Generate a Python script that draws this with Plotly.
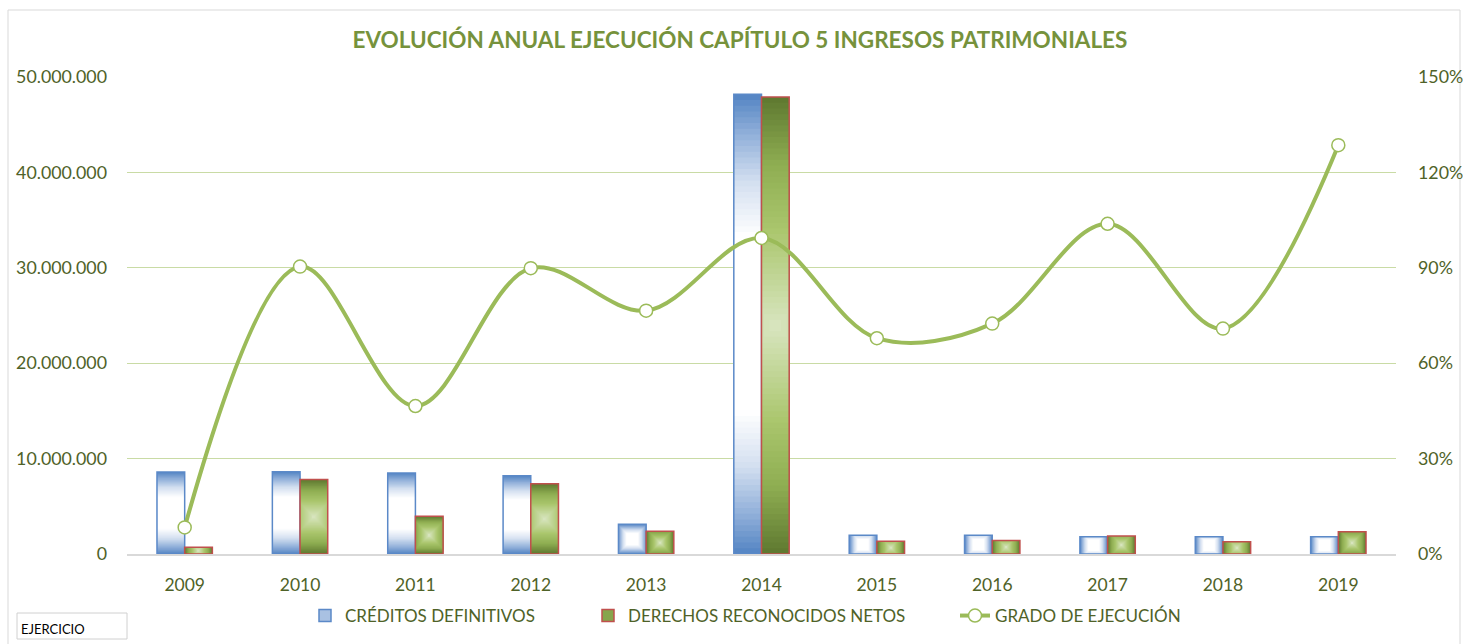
import plotly.graph_objects as go

# ---- data -------------------------------------------------------------
years = ["2009", "2010", "2011", "2012", "2013", "2014",
         "2015", "2016", "2017", "2018", "2019"]
creditos = [8.60e6, 8.63e6, 8.49e6, 8.20e6, 3.11e6, 48.2e6,
            1.96e6, 1.96e6, 1.82e6, 1.82e6, 1.82e6]
derechos = [0.72e6, 7.80e6, 3.95e6, 7.37e6, 2.38e6, 47.9e6,
            1.33e6, 1.42e6, 1.89e6, 1.29e6, 2.34e6]
# execution ratio = recognised rights / final credits
grado = [d / c for d, c in zip(derechos, creditos)]

# ---- geometry used to shape the bar gradients ---------------------------
W, H = 1463, 644
L, R, T, B = 127, 67, 77, 90
PLOT_W, PLOT_H = W - L - R, H - T - B
Y_MAX = 50e6
PX_X = PLOT_W / len(years)      # pixels per category
PX_Y = PLOT_H / Y_MAX           # pixels per unit of value
BAR_W = 0.24                    # bar width in category units
N_LAYERS = 40

TXT = "#4F6228"
BLUE_STOPS = [(0.0, "#FFFFFF"), (0.38, "#FFFFFF"), (0.62, "#D3DFF0"),
              (0.82, "#93B1DA"), (1.0, "#5384C3")]
GREEN_STOPS = [(0.0, "#D8E5BF"), (0.42, "#AAC66D"), (0.7, "#8FAE52"),
               (1.0, "#5E7830")]


def hex_rgb(h):
    h = h.lstrip("#")
    return tuple(int(h[i:i + 2], 16) for i in (0, 2, 4))


def color_at(stops, t):
    for (t0, c0), (t1, c1) in zip(stops, stops[1:]):
        if t <= t1:
            f = 0 if t1 == t0 else (t - t0) / (t1 - t0)
            a, b = hex_rgb(c0), hex_rgb(c1)
            return "rgb(%d,%d,%d)" % tuple(round(a[i] + (b[i] - a[i]) * f) for i in range(3))
    return stops[-1][1]


def gradient_bars(values, side, stops, edge, name, legend):
    """Nested bars approximating a centre-out gradient fill."""
    traces = []
    x = list(range(len(values)))
    hw_px = BAR_W * PX_X / 2
    for k in range(N_LAYERS):
        outer = 1 - k / N_LAYERS
        mid = 1 - (k + 0.5) / N_LAYERS
        widths, bases, heights, offsets = [], [], [], []
        for v in values:
            hh_px = v * PX_Y / 2
            rm = max(hw_px, hh_px)
            r = outer * rm
            hw = min(hw_px, r)
            hh = min(hh_px, r)
            cx = side * BAR_W / 2
            widths.append(2 * hw / PX_X)
            offsets.append(cx - hw / PX_X)
            heights.append(2 * hh / PX_Y)
            bases.append(v / 2 - hh / PX_Y)
        traces.append(go.Bar(
            x=x, y=heights, base=bases, width=widths, offset=offsets,
            marker=dict(color=color_at(stops, mid), line=dict(width=0)),
            showlegend=False, hoverinfo="skip"))
    # outline on top
    traces.append(go.Bar(
        x=x, y=values, width=[BAR_W] * len(values),
        offset=[side * BAR_W / 2 - BAR_W / 2] * len(values),
        marker=dict(color="rgba(0,0,0,0)", line=dict(color=edge, width=1.5)),
        name=name, showlegend=False,
        hovertemplate="%{y:,.0f}<extra>" + name + "</extra>"))
    # legend entry
    traces.append(go.Bar(
        x=[None], y=[None], name=name, legend=legend,
        marker=dict(color=color_at(stops, 0.75), line=dict(color=edge, width=1.5))))
    return traces


fig = go.Figure()
for tr in gradient_bars(creditos, -1, BLUE_STOPS, "#5B89C8",
                        "CRÉDITOS DEFINITIVOS", "legend"):
    fig.add_trace(tr)
for tr in gradient_bars(derechos, 1, GREEN_STOPS, "#C0504D",
                        "DERECHOS RECONOCIDOS NETOS", "legend2"):
    fig.add_trace(tr)

fig.add_trace(go.Scatter(
    x=list(range(len(years))), y=grado, yaxis="y2", name="GRADO DE EJECUCIÓN",
    legend="legend3", mode="lines+markers",
    line=dict(color="#9BBB59", width=4, shape="spline", smoothing=1),
    marker=dict(size=13, color="white", line=dict(color="#9BBB59", width=1.5)),
    hovertemplate="%{y:.0%}<extra></extra>"))


def px_x(p):
    return (p - L) / PLOT_W


def px_y(p):
    return (H - B - p) / PLOT_H


def cx(p):
    return p / W


def cy(p):
    return 1 - p / H


legend_common = dict(orientation="h", yanchor="middle", xanchor="left",
                     xref="container", yref="container",
                     y=cy(616), bgcolor="rgba(0,0,0,0)",
                     font=dict(family="Lato", size=17, color=TXT))

fig.update_layout(
    width=W, height=H,
    margin=dict(l=L, r=R, t=T, b=B, autoexpand=False),
    paper_bgcolor="white", plot_bgcolor="white",
    separators=",.",
    barmode="overlay",
    font=dict(family="Lato", color=TXT, size=18),
    title=dict(text="EVOLUCIÓN ANUAL EJECUCIÓN CAPÍTULO 5 INGRESOS PATRIMONIALES",
               x=cx(740), xanchor="center", xref="container",
               y=cy(40), yanchor="middle", yref="container",
               font=dict(family="Lato", size=22.5, color="#76923C", weight="bold")),
    xaxis=dict(range=[-0.5, len(years) - 0.5], tickmode="array",
               tickvals=list(range(len(years))), ticktext=years,
               showgrid=False, showline=True, linecolor="#D9D9D9", linewidth=1.5,
               ticks="", zeroline=False, ticklabelstandoff=14,
               tickfont=dict(size=17.5, color=TXT), fixedrange=True),
    yaxis=dict(range=[0, Y_MAX], dtick=10e6, tickformat=",d",
               showgrid=True, gridcolor="#C9DBA5", gridwidth=1,
               zeroline=False, showline=False, ticks="", ticklabelstandoff=19,
               tickfont=dict(size=17.8, color=TXT), fixedrange=True),
    yaxis2=dict(range=[0, 1.5], dtick=0.3, tickformat=".0%", overlaying="y",
                side="right", showgrid=False, zeroline=False, showline=False,
                ticks="", ticklabelstandoff=21,
                tickfont=dict(size=17.8, color=TXT), fixedrange=True),
    legend=dict(x=cx(305), **legend_common),
    legend2=dict(x=cx(588), **legend_common),
    legend3=dict(x=cx(955), **legend_common),
    shapes=[
        dict(type="rect", xref="paper", yref="paper",
             x0=px_x(8), x1=px_x(1460), y0=px_y(660), y1=px_y(10),
             line=dict(color="#D9D9D9", width=1), fillcolor="rgba(0,0,0,0)",
             layer="below"),
        dict(type="rect", xref="paper", yref="paper",
             x0=px_x(17), x1=px_x(127), y0=px_y(639), y1=px_y(613),
             line=dict(color="#D0D0D0", width=1), fillcolor="white"),
    ],
    annotations=[
        dict(text="EJERCICIO", xref="paper", yref="paper",
             x=px_x(19), y=px_y(629), xanchor="left", yanchor="middle",
             showarrow=False, font=dict(family="Lato", size=13, color="#000000")),
    ],
)

fig.write_html("out.html")
